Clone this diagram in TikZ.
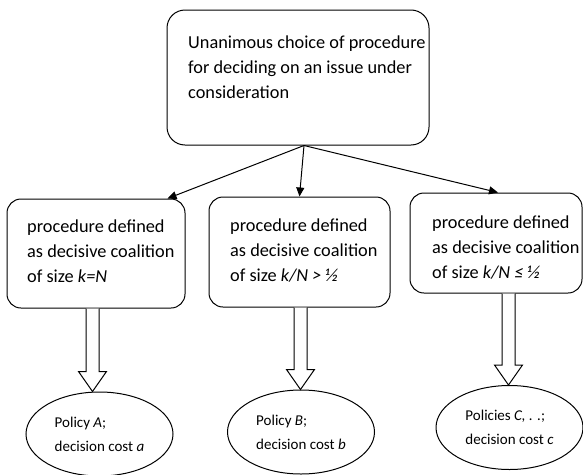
\documentclass[tikz,border=0pt]{standalone}
\usepackage{fontspec}
\setmainfont{Carlito}
\usetikzlibrary{arrows.meta,positioning,calc,shapes.geometric}

\begin{document}
\begin{tikzpicture}[x=1pt, y=-1pt,
  >={Triangle[length=9pt,width=8pt]},
  box/.style={draw, line width=1pt, rounded corners=#1, inner sep=0pt},
  box/.default=14pt,
  txt/.style={font=\fontsize{18.3}{25}\selectfont, align=left,
    inner sep=0pt, anchor=west},
  outc/.style={draw, ellipse, line width=1pt, inner sep=0pt, align=left,
    minimum width=147pt, minimum height=84pt,
    font=\fontsize{15}{24}\selectfont},
  link/.style={->, line width=1pt},
  hollow/.style={draw, line width=1pt, fill=white},
]
\useasboundingbox (0,0) rectangle (583,474);
% unanimous choice
\node[box=18pt, minimum width=262pt, minimum height=135pt] (choice) at (298,77.5) {};
\node[txt] (choicetxt) at (188,67)
  {Unanimous choice of procedure\\for deciding on an issue under\\consideration};
% procedures
\foreach \n/\x/\y/\w/\h in {p1/96/253.5/178/109, p2/299.5/252/181/110,
    p3/496/243/172/100} {
  \node[box, minimum width=\w pt, minimum height=\h pt] (\n) at (\x,\y) {};
}
\foreach \n/\x/\y/\s in {p1/27/251.5/{\textit{k=N}},
    p2/230/251/{\textit{k/N > ½}}, p3/432/247.5/{\textit{k/N ≤ ½}}} {
  \node[txt] (\n-txt) at (\x,\y) {procedure defined\\as decisive coalition\\of size \s};
}
% outcomes
\foreach \n/\x/\y/\t in {e1/99.5/434/{Policy \textit{A};\\decision cost \textit{a}},
    e2/301/432/{Policy \textit{B};\\decision cost \textit{b}},
    e3/509.5/427.5/{Policies \textit{C, . .};\\decision cost \textit{c}}} {
  \node[outc] (\n) at (\x,\y) {\t};
}
% choice to procedures
\coordinate (fork) at ([xshift=6pt]choice.south);
\draw[link] (fork) -- ([xshift=-18pt]p1.north east);
\draw[link] (fork) -- (p2.north);
\draw[link] (fork) -- ([xshift=2pt]p3.north);
% procedures to outcomes
\foreach \f/\t/\c in {p1/e1/92.5, p2/e2/300.5, p3/e3/508.5} {
  \draw[hollow] let \p1=(\f.south), \p2=(\t.north) in
    (\c pt-6.5pt,\y1) -- (\c pt-6.5pt,\y2+20pt) -- (\c pt-14pt,\y2+20pt)
    -- (\c pt,\y2) -- (\c pt+14pt,\y2+20pt) -- (\c pt+6.5pt,\y2+20pt)
    -- (\c pt+6.5pt,\y1);
}
\end{tikzpicture}
\end{document}
